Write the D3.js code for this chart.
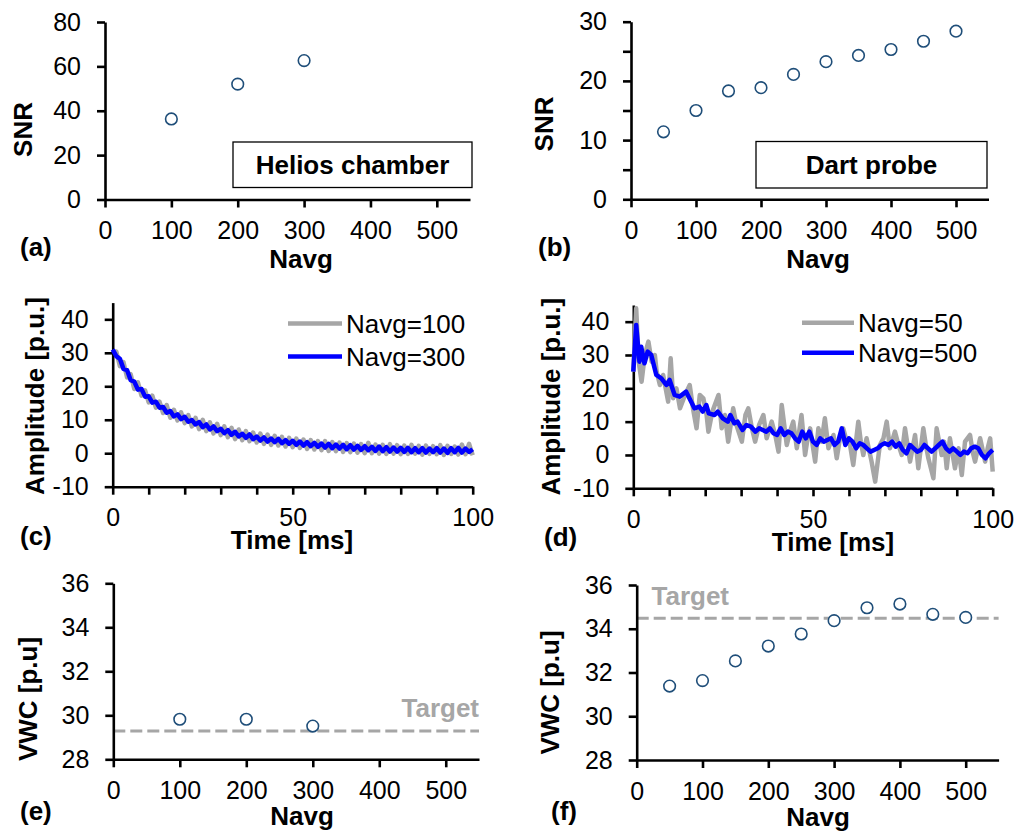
<!DOCTYPE html>
<html>
<head>
<meta charset="utf-8">
<script src="https://cdn.jsdelivr.net/npm/d3@7"></script>
<style>
  body { margin: 0; background: #fff; }
  svg text { font-family: "Liberation Sans", Arial, sans-serif; }
</style>
</head>
<body>
<svg id="chart" width="1015" height="831"></svg>
<script>
// ---- data ----
var navgA = [100, 200, 300];
var snrA = [36.3, 52.0, 62.6];

var navgB = [50, 100, 150, 200, 250, 300, 350, 400, 450, 500];
var snrB = [11.4, 15.0, 18.3, 18.85, 21.1, 23.25, 24.3, 25.3, 26.7, 28.4];

var vwcE = [29.82, 29.82, 29.51];
var targetE = 29.29;
var vwcF = [31.38, 31.63, 32.53, 33.21, 33.76, 34.37, 34.96, 35.13, 34.66, 34.52];
var targetF = 34.48;

// (c) decays sampled every 1 ms, 0..100
var dtC = 1;
var ampC100 = [30.0, 30.4, 26.0, 27.2, 22.6, 23.6, 19.2, 21.2, 17.2, 18.8,
  15.2, 17.2, 13.6, 15.4, 12.0, 14.4, 10.6, 13.0, 9.8, 12.2,
  9.0, 11.4, 8.0, 10.6, 7.2, 10.0, 6.6, 9.2, 5.9, 8.8,
  5.4, 8.0, 4.8, 7.6, 4.2, 7.1, 3.9, 6.6, 3.6, 6.2,
  3.2, 5.9, 2.8, 5.6, 2.5, 5.2, 2.3, 4.9, 2.0, 4.6,
  1.8, 4.4, 1.6, 4.1, 1.3, 3.9, 1.1, 3.6, 0.9, 3.6,
  0.7, 3.3, 0.6, 3.2, 0.4, 3.0, 0.3, 2.9, 0.2, 2.7,
  0.0, 3.1, 0.0, 2.6, -0.1, 2.5, -0.2, 2.7, -0.1, 2.4,
  -0.3, 2.3, -0.2, 2.5, -0.1, 2.2, -0.4, 2.3, -0.2, 2.1,
  -0.3, 2.4, -0.5, 2.2, -0.2, 2.0, -0.4, 2.6, -0.3, 2.8, -0.6];
var ampC300 = [31.0, 29.0, 28.2, 25.2, 24.8, 21.8, 21.4, 19.0, 19.2, 16.9,
  17.0, 15.1, 15.4, 13.6, 13.8, 12.1, 12.6, 11.0, 11.6, 10.2,
  10.9, 9.4, 9.9, 8.6, 9.3, 7.8, 8.6, 7.1, 8.0, 6.6,
  7.3, 6.0, 6.9, 5.5, 6.4, 5.0, 5.8, 4.6, 5.6, 4.2,
  5.0, 3.8, 4.7, 3.5, 4.4, 3.3, 4.3, 3.0, 3.9, 2.8,
  3.7, 2.5, 3.5, 2.3, 3.3, 2.1, 3.1, 1.9, 2.9, 1.7,
  2.8, 1.5, 2.6, 1.4, 2.5, 1.2, 2.4, 1.1, 2.2, 1.0,
  2.1, 0.9, 1.9, 0.7, 2.0, 0.6, 1.8, 0.5, 1.7, 0.5,
  1.6, 0.4, 1.6, 0.3, 1.5, 0.3, 1.5, 0.2, 1.4, 0.3,
  1.5, 0.2, 1.4, 0.1, 1.5, 0.3, 1.6, 0.2, 1.4, 0.4, 1.2];

// (d) [time ms, amplitude]
var ampD50 = [[0,25],[0.8,44],[1.5,28],[2.3,22],[3.2,30],[4.2,34],[5.1,28],[6,30],[6.5,25],[7.4,21],
  [8.3,24],[9.7,16],[10.4,29],[11.1,17],[12,20],[13,14],[14.4,18],[15.7,21],[16.6,14],[17.6,8],
  [18.5,18],[19.5,17],[20.4,12],[20.9,7],[22,13],[23.7,18],[24.6,8],[25.5,12],[26.4,4],[27.8,14],
  [28.7,9],[30.2,4],[31.2,12],[32,14],[33,8],[33.9,4],[35,9],[36.2,12],[37.1,5],[38.5,10],
  [39.5,6],[40.4,1],[41.3,15],[42.7,3],[43.6,7],[44.5,10],[45.5,2],[46.8,12],[47.8,0],[48.5,5],
  [49.2,8],[50.6,-2],[51.5,8],[52.4,4],[53.3,11],[54.3,2],[55.7,6],[56.6,-1],[57.5,5],[58.4,8],
  [59.4,4],[60.3,3],[61.2,-3],[62.6,10],[63.3,4],[64,0],[64.9,5],[66.3,-2],[67.3,-8],[68.6,3],
  [69.6,5],[70.5,10],[71.4,2],[72.8,7],[73.8,3],[74.7,0],[75.6,8],[77,-2],[78.4,6],[79.3,-4],
  [80.7,8],[81.4,3],[82.1,-1],[83.5,-7],[84.4,8],[85.8,0],[86.5,4],[87.2,-4],[88.1,5],[89.5,-4],
  [90.5,2],[91.4,-6],[92.3,4],[93.7,6],[94.4,1],[95.1,-2],[96.5,5],[97.9,-2],[98.6,2],[99.3,5],[100,-5]];
var ampD500 = [[0,25],[0.8,39],[1.7,28],[2.2,32.5],[3.1,27.5],[4,31],[5,30],[6.4,24],[7.8,23],[9.2,21],
  [10.1,22.5],[11.5,18],[12.9,17.5],[14.7,19],[16.1,16],[17,14],[18.4,14.5],[19.3,13],[20.3,15],[21,12.5],
  [22.6,12],[23.5,13],[24.9,11],[26.3,10],[27,12],[28.1,9.5],[29,10],[30.4,7.5],[31.5,9],[32.7,8.5],
  [34,7],[35,8],[36,7.5],[37,7],[38,8],[39,6.5],[40,6],[41,8],[42,6],[43,7],
  [44,6.5],[45,5],[46,4],[47,7],[48,5],[49,7],[50,4],[51,3],[52,5],[53,4],
  [54,4.5],[55,5],[56,3],[57,4],[58,8],[59,3],[60,5],[61,4],[62,2],[63,3.5],
  [64,3],[65,2],[66,1],[67,1.5],[68,2],[69,3],[70,3.5],[71,3],[72,4],[73,2.5],
  [74,3.5],[75,1.5],[76,0.5],[77,3],[78,2],[79,1],[80,1.5],[81,3],[82,2],[83,1],
  [84,2],[85,3],[86,4],[87,2],[88,1],[89,2],[90,1],[91,0],[92,1],[93,0.5],
  [94,2],[95,2.5],[96,2],[97,0],[98,-1],[99,0.5],[100,1.5]];

var navgTicks = [0, 100, 200, 300, 400, 500];
var timeTicks = [0, 10, 20, 30, 40, 50, 60, 70, 80, 90, 100];
var timeLabels = [0, 50, 100];
var ampTicks = [-10, 0, 10, 20, 30, 40];
var snrTicksA = [0, 20, 40, 60, 80];
var snrTicksB = [0, 5, 10, 15, 20, 25, 30];
var snrLabelsB = [0, 10, 20, 30];
var vwcTicks = [28, 30, 32, 34, 36];

var GRAY = "#a6a6a6", BLUE = "#0000ff", MARK = "#1f4e79";
var svg = d3.select("#chart");

function drawAxes(g, x, y, xTicks, xShown, yTicks, yShown) {
  var y0 = y(y.domain()[0]);
  var x0 = x(x.domain()[0]);
  var xa = d3.axisBottom(x).tickValues(xTicks).tickSize(8).tickPadding(14).tickSizeOuter(0)
      .tickFormat(function (d) { return xShown.indexOf(d) >= 0 ? d : ""; });
  var ya = d3.axisLeft(y).tickValues(yTicks).tickSize(8).tickPadding(16).tickSizeOuter(0)
      .tickFormat(function (d) { return yShown.indexOf(d) >= 0 ? d : ""; });
  var gx = g.append("g").attr("transform", "translate(0," + y0 + ")").call(xa);
  var gy = g.append("g").attr("transform", "translate(" + x0 + ",0)").call(ya);
  [gx, gy].forEach(function (a) {
    a.selectAll("path.domain, line").attr("stroke", "#000").attr("stroke-width", 2.6);
    a.selectAll("text").attr("font-size", 25).attr("fill", "#000");
  });
}

function label(g, txt, x, y, opt) {
  opt = opt || {};
  var t = g.append("text").text(txt)
    .attr("font-size", opt.size || 26)
    .attr("font-weight", opt.normal ? "normal" : "bold")
    .attr("fill", opt.fill || "#000")
    .attr("text-anchor", opt.anchor || "middle");
  if (opt.rot) t.attr("transform", "translate(" + x + "," + y + ") rotate(-90)");
  else t.attr("x", x).attr("y", y);
  return t;
}

function markers(g, x, y, xs, ys) {
  g.append("g").selectAll("circle")
    .data(xs.map(function (d, i) { return [d, ys[i]]; }))
    .enter().append("circle")
    .attr("cx", function (d) { return x(d[0]); })
    .attr("cy", function (d) { return y(d[1]); })
    .attr("r", 5.8)
    .attr("fill", "#fff")
    .attr("stroke", MARK)
    .attr("stroke-width", 1.6);
}

function boxLabel(g, txt, x0, y0, w, h) {
  g.append("rect").attr("x", x0).attr("y", y0).attr("width", w).attr("height", h)
    .attr("fill", "#fff").attr("stroke", "#000").attr("stroke-width", 1.3);
  label(g, txt, x0 + w / 2, y0 + h / 2 + 9.5);
}

function trace(g, data, line, color) {
  g.append("path").datum(data).attr("d", line)
    .attr("fill", "none").attr("stroke", color).attr("stroke-width", 4.5)
    .attr("stroke-linejoin", "round");
}

function legendRow(g, x1, x2, y, color, txt, ty) {
  g.append("line").attr("x1", x1).attr("x2", x2).attr("y1", y).attr("y2", y)
    .attr("stroke", color).attr("stroke-width", 4.5);
  label(g, txt, x2 + 4, ty, { anchor: "start", normal: true });
}

// (a)
var gA = svg.append("g");
var xA = d3.scaleLinear().domain([0, 550]).range([105, 470]);
var yA = d3.scaleLinear().domain([0, 80]).range([199.5, 22]);
boxLabel(gA, "Helios chamber", 233, 142, 239, 45.5);
drawAxes(gA, xA, yA, navgTicks, navgTicks, snrTicksA, snrTicksA);
markers(gA, xA, yA, navgA, snrA);
label(gA, "SNR", 31.5, 129.5, { rot: true });
label(gA, "Navg", 301, 268);
label(gA, "(a)", 20, 256, { anchor: "start" });

// (b)
var gB = svg.append("g");
var xB = d3.scaleLinear().domain([0, 550]).range([631, 988.5]);
var yB = d3.scaleLinear().domain([0, 30]).range([199.3, 21.7]);
boxLabel(gB, "Dart probe", 756, 141.5, 231, 46.5);
drawAxes(gB, xB, yB, navgTicks, navgTicks, snrTicksB, snrLabelsB);
markers(gB, xB, yB, navgB, snrB);
label(gB, "SNR", 553, 124, { rot: true });
label(gB, "Navg", 818, 268);
label(gB, "(b)", 538, 256, { anchor: "start" });

// (c)
var gC = svg.append("g");
var xC = d3.scaleLinear().domain([0, 100]).range([112.7, 472.7]);
var yC = d3.scaleLinear().domain([-10, 45]).range([486.7, 302.6]);
drawAxes(gC, xC, yC, timeTicks, timeLabels, ampTicks, ampTicks);
var lineC = d3.line()
  .x(function (d, i) { return xC(i * dtC); })
  .y(function (d) { return yC(d); });
trace(gC, ampC100, lineC, GRAY);
trace(gC, ampC300, lineC, BLUE);
legendRow(gC, 288, 342, 323.5, GRAY, "Navg=100", 333);
legendRow(gC, 288, 342, 356.5, BLUE, "Navg=300", 366);
label(gC, "Amplitude [p.u.]", 43.5, 396, { rot: true });
label(gC, "Time [ms]", 292, 549);
label(gC, "(c)", 20, 545, { anchor: "start" });

// (d)
var gD = svg.append("g");
var xD = d3.scaleLinear().domain([0, 100]).range([633.3, 992.7]);
var yD = d3.scaleLinear().domain([-10, 45]).range([488.3, 305]);
drawAxes(gD, xD, yD, timeTicks, timeLabels, ampTicks, ampTicks);
var lineD = d3.line()
  .x(function (d) { return xD(d[0]); })
  .y(function (d) { return yD(d[1]); });
trace(gD, ampD50, lineD, GRAY);
trace(gD, ampD500, lineD, BLUE);
legendRow(gD, 802, 854, 322.7, GRAY, "Navg=50", 332);
legendRow(gD, 802, 854, 352.7, BLUE, "Navg=500", 362);
label(gD, "Amplitude [p.u.]", 560, 396.7, { rot: true });
label(gD, "Time [ms]", 833, 551);
label(gD, "(d)", 544, 546, { anchor: "start" });

// (e)
var gE = svg.append("g");
var xE = d3.scaleLinear().domain([0, 550]).range([113.3, 479]);
var yE = d3.scaleLinear().domain([28, 36]).range([759.3, 583.3]);
gE.append("line").attr("x1", xE(0)).attr("x2", xE(550)).attr("y1", yE(targetE)).attr("y2", yE(targetE))
  .attr("stroke", GRAY).attr("stroke-width", 3).attr("stroke-dasharray", "12,5");
label(gE, "Target", 479, 717, { anchor: "end", fill: GRAY });
drawAxes(gE, xE, yE, navgTicks, navgTicks, vwcTicks, vwcTicks);
markers(gE, xE, yE, navgA, vwcE);
label(gE, "VWC [p.u]", 36.7, 699, { rot: true });
label(gE, "Navg", 302, 825);
label(gE, "(e)", 20, 820, { anchor: "start" });

// (f)
var gF = svg.append("g");
var xF = d3.scaleLinear().domain([0, 550]).range([636.7, 998.6]);
var yF = d3.scaleLinear().domain([28, 36]).range([760, 585]);
gF.append("line").attr("x1", xF(0)).attr("x2", xF(550)).attr("y1", yF(targetF)).attr("y2", yF(targetF))
  .attr("stroke", GRAY).attr("stroke-width", 3).attr("stroke-dasharray", "12,5");
label(gF, "Target", 651.5, 605, { anchor: "start", fill: GRAY });
drawAxes(gF, xF, yF, navgTicks, navgTicks, vwcTicks, vwcTicks);
markers(gF, xF, yF, navgB, vwcF);
label(gF, "VWC [p.u]", 559.3, 692.5, { rot: true });
label(gF, "Navg", 818, 826);
label(gF, "(f)", 551, 820, { anchor: "start" });
</script>
</body>
</html>
